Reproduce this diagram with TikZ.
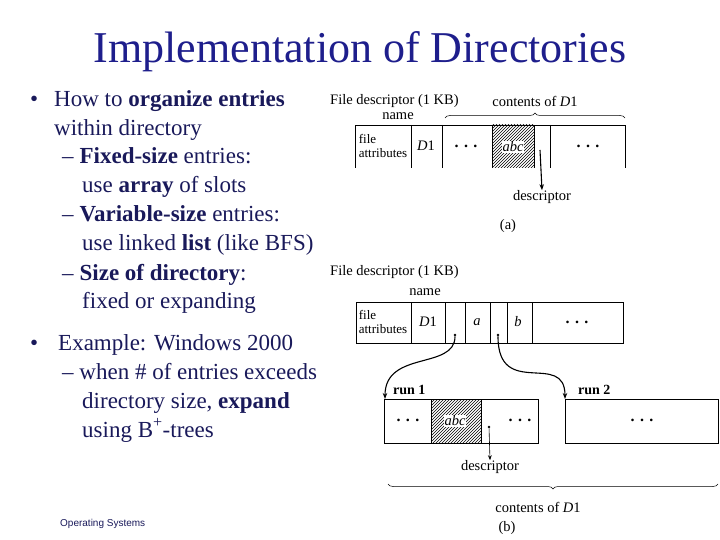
\documentclass[tikz,border=0pt]{standalone}
\usepackage{fontspec}
\setmainfont{Liberation Serif}
\setsansfont{Liberation Sans}
\usetikzlibrary{positioning, patterns, decorations.pathreplacing, arrows.meta}
\definecolor{slideblue}{RGB}{30,30,140}
\definecolor{slidetext}{RGB}{25,25,90}
\tikzset{
  bul/.style={anchor=base west, text=slidetext, font=\fontsize{23}{25}\selectfont, inner sep=0pt},
  lbl/.style={font=\fontsize{14.5}{15}\selectfont, inner sep=0pt},
  attr/.style={font=\fontsize{13}{14}\selectfont, inner sep=0pt, align=left},
  cell/.style={line width=0.8pt},
  dots/.style={font=\bfseries\fontsize{16}{16}\selectfont},
  dotptr/.style={circle, fill, inner sep=0.9pt},
  ptr/.style={-{Stealth[length=6pt]}, line width=1.1pt},
}
\begin{document}
\begin{tikzpicture}[x=1pt,y=-1pt]
    \useasboundingbox (0,0) rectangle (720,540);

    % title
    \node[text=slideblue, font=\fontsize{44}{46}\selectfont] (title) at (360,52) {Implementation of Directories};

    % left text
    \node[bul] (b1) at (30,107) {•};
    \node[bul] (t1) at (54,107) {How to \textbf{organize entries}};
    \node[bul] (t2) at (54,136) {within directory};
    \node[bul] (t3) at (62,164) {– \textbf{Fixed-size} entries:};
    \node[bul] (t4) at (82,193) {use \textbf{array} of slots};
    \node[bul] (t5) at (62,222) {– \textbf{Variable-size} entries:};
    \node[bul] (t6) at (82,251) {use linked \textbf{list} (like BFS)};
    \node[bul] (t7) at (62,280) {– \textbf{Size of directory}:};
    \node[bul] (t8) at (82,308) {fixed or expanding};
    \node[bul] (b2) at (30,350) {•};
    \node[bul] (t9) at (58,350) {Example: Windows 2000};
    \node[bul] (t10) at (62,379) {– when \# of entries exceeds};
    \node[bul] (t11) at (82,408) {directory size, \textbf{expand}};
    \node[bul] (t12) at (82,437) {using B\textsuperscript{+}-trees};
    \node[anchor=base west, text=slidetext, font=\sffamily\fontsize{10}{11}\selectfont, inner sep=0pt] (foot) at (60,526) {Operating Systems};

    % (a) fixed-size slots
    \node[lbl, anchor=west] (fda) at (330,101) {File descriptor (1 KB)};
    \node[lbl] (cona) at (535,101) {contents of \textit{D}1};
    \node[lbl] (namea) at (398,116) {name};
    \fill[pattern=north east lines] (492,125) rectangle (534,168);
    \draw[cell] (355,168) -- (355,125) -- (625,125) -- (625,168);
    \foreach \x in {411,442,492,534,550} \draw[cell] (\x,125) -- (\x,168);
    \draw[decorate, decoration={brace, amplitude=5pt}, line width=0.5pt] (445,118) -- (625,118);
    \node[attr] (attra) at (383,146) {file\\attributes};
    \node[lbl] (d1a) at (426,146) {\textit{D}1};
    \node[dots] (dotsa1) at (466,146) {. . .};
    \node[lbl, fill=white, inner sep=1pt] (abca) at (513,147) {\textit{abc}};
    \node[dots] (dotsa2) at (588,146) {. . .};
    \coordinate (pa) at (540,150);
    \node[lbl] (desca) at (542,197) {descriptor};
    \draw[ptr] (pa) -- (desca.north);
    \node[lbl] (capa) at (508,226) {(a)};

    % (b) runs
    \node[lbl, anchor=west] (fdb) at (330,272) {File descriptor (1 KB)};
    \node[lbl] (nameb) at (425,292) {name};
    \draw[cell] (356,302) rectangle (623,343);
    \foreach \x in {411,445,465,490,507,532} \draw[cell] (\x,302) -- (\x,343);
    \node[attr] (attrb) at (383,322) {file\\attributes};
    \node[lbl] (d1b) at (428,322) {\textit{D}1};
    \node[lbl] (ab) at (477,322) {\textit{a}};
    \node[lbl] (bb) at (518,322) {\textit{b}};
    \node[dots] (dotsb0) at (577,322) {. . .};
    \node[dotptr] (p1) at (455,335) {};
    \node[dotptr] (p2) at (498,335) {};

    \node[lbl, font=\bfseries\fontsize{14}{15}\selectfont, anchor=west] (run1) at (393,390) {run 1};
    \node[lbl, font=\bfseries\fontsize{14}{15}\selectfont, anchor=west] (run2) at (578,390) {run 2};
    \coordinate (r1) at (385,399);
    \coordinate (r2) at (565,399);
    \fill[pattern=north east lines] (431,399) rectangle (481,443);
    \draw[cell] (384,399) rectangle (538,443);
    \draw[cell] (431,399) -- (431,443) (481,399) -- (481,443);
    \draw[cell] (565,399) rectangle (718,443);
    \node[dots] (dotsb1) at (408,420) {. . .};
    \node[lbl, fill=white, inner sep=1pt] (abcb) at (455,421) {\textit{abc}};
    \node[dots] (dotsb2) at (520,420) {. . .};
    \node[dots] (dotsb3) at (642,420) {. . .};
    \draw[ptr] (p1) .. controls (455,370) and (385,350) .. (r1);
    \draw[ptr] (p2) .. controls (498,400) and (565,350) .. (r2);
    \node[dotptr] (p3) at (489,427) {};
    \node[lbl] (descb) at (490,467) {descriptor};
    \draw[-{Stealth[length=5pt]}, line width=0.6pt] (p3) -- (descb.north);
    \draw[decorate, decoration={brace, amplitude=5pt}, line width=0.5pt] (718,484) -- (388,484);
    \node[lbl] (conb) at (538,507) {contents of \textit{D}1};
    \node[lbl] (capb) at (507,528) {(b)};
\end{tikzpicture}
\end{document}
